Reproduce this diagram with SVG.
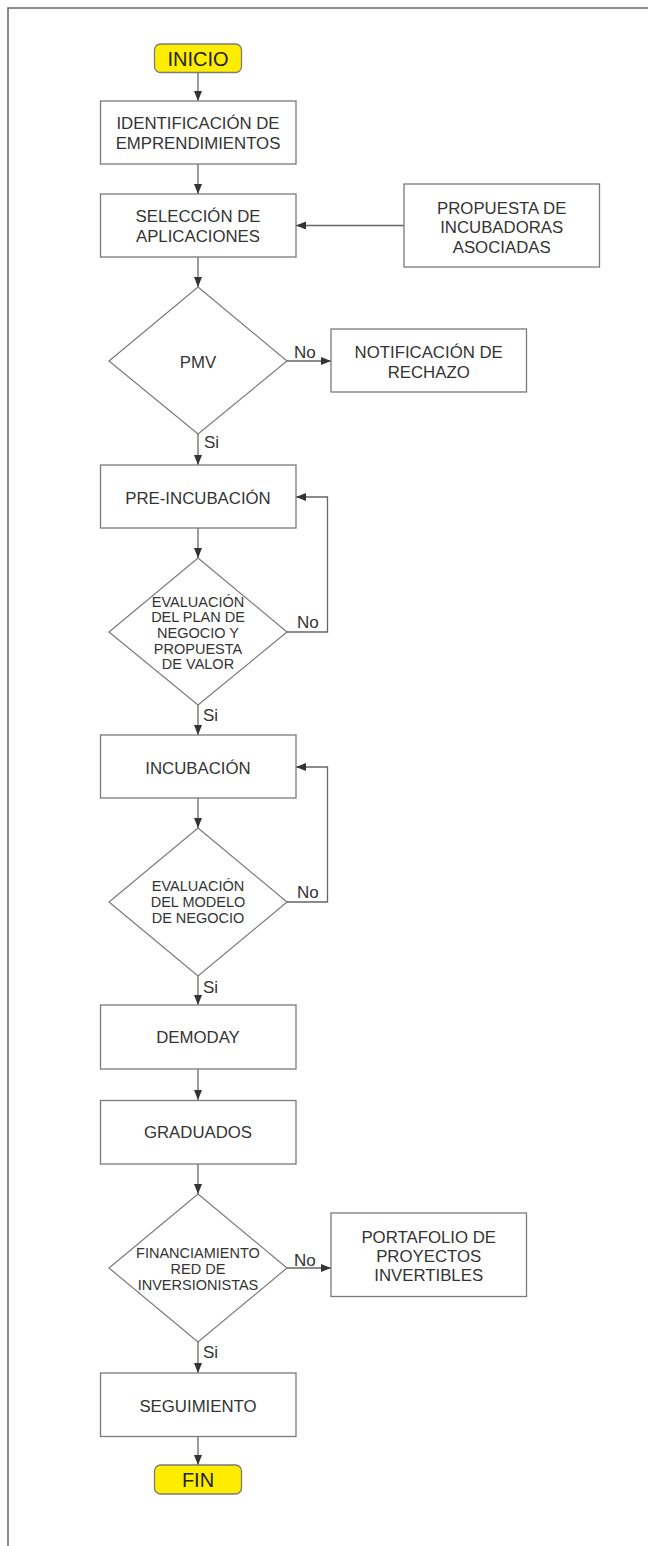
<svg xmlns="http://www.w3.org/2000/svg" width="648" height="1546" viewBox="0 0 648 1546">
<defs>
<marker id="ah" markerUnits="userSpaceOnUse" markerWidth="10" markerHeight="10" viewBox="0 0 10 10" refX="10" refY="5" orient="auto">
<path d="M0,1 L10,5 L0,9 Z" fill="#333"/>
</marker>
<style>
.frame{fill:none;stroke:#666;stroke-width:1.5}
.box{fill:#fff;stroke:#7a7a7a;stroke-width:1.3}
.term{fill:#ffed00;stroke:#7a7a7a;stroke-width:1.3}
.dia{fill:#fff;stroke:#7a7a7a;stroke-width:1.2}
.t{font-family:"Liberation Sans",Arial,sans-serif;font-size:16.8px;fill:#333;text-anchor:middle}
.td{font-family:"Liberation Sans",Arial,sans-serif;font-size:14.5px;fill:#333;text-anchor:middle}
.tt{font-family:"Liberation Sans",Arial,sans-serif;font-size:20px;fill:#222;text-anchor:middle}
.lbl{font-family:"Liberation Sans",Arial,sans-serif;font-size:17px;fill:#333}
.c{fill:none;stroke:#666;stroke-width:1.3}
</style>
</defs>
<rect width="648" height="1546" fill="#fff"/>
<path class="frame" d="M8,1546 L8,8 L648,8"/>

<g id="connectors">
<line class="c" x1="198" y1="73" x2="198" y2="101" marker-end="url(#ah)"/>
<line class="c" x1="198" y1="164" x2="198" y2="194" marker-end="url(#ah)"/>
<line class="c" x1="404" y1="225.5" x2="296" y2="225.5" marker-end="url(#ah)"/>
<line class="c" x1="198" y1="257" x2="198" y2="287" marker-end="url(#ah)"/>
<line class="c" x1="287" y1="361" x2="331" y2="361" marker-end="url(#ah)"/>
<line class="c" x1="198" y1="434" x2="198" y2="465" marker-end="url(#ah)"/>
<line class="c" x1="198" y1="528" x2="198" y2="558" marker-end="url(#ah)"/>
<polyline class="c" points="287,632 327.5,632 327.5,497 296,497" marker-end="url(#ah)"/>
<line class="c" x1="198" y1="705" x2="198" y2="735" marker-end="url(#ah)"/>
<line class="c" x1="198" y1="798" x2="198" y2="828" marker-end="url(#ah)"/>
<polyline class="c" points="287,902 327.5,902 327.5,767 296,767" marker-end="url(#ah)"/>
<line class="c" x1="198" y1="976" x2="198" y2="1005" marker-end="url(#ah)"/>
<line class="c" x1="198" y1="1069" x2="198" y2="1100" marker-end="url(#ah)"/>
<line class="c" x1="198" y1="1164" x2="198" y2="1194" marker-end="url(#ah)"/>
<line class="c" x1="287" y1="1268" x2="331" y2="1268" marker-end="url(#ah)"/>
<line class="c" x1="198" y1="1342" x2="198" y2="1373" marker-end="url(#ah)"/>
<line class="c" x1="198" y1="1436" x2="198" y2="1465" marker-end="url(#ah)"/>
<text class="lbl" x="294" y="358">No</text>
<text class="lbl" x="204" y="448">Si</text>
<text class="lbl" x="297" y="628">No</text>
<text class="lbl" x="203" y="721">Si</text>
<text class="lbl" x="297" y="898">No</text>
<text class="lbl" x="203" y="993">Si</text>
<text class="lbl" x="294" y="1266">No</text>
<text class="lbl" x="203" y="1358">Si</text>
</g>

<g id="inicio">
<rect class="term" x="154.5" y="44" width="87" height="28.5" rx="6"/>
<text class="tt" x="198" y="65.5">INICIO</text>
</g>
<g id="identificacion">
<rect class="box" x="100.5" y="101" width="195.5" height="63"/>
<text class="t" x="198" y="129">IDENTIFICACIÓN DE</text>
<text class="t" x="198" y="149">EMPRENDIMIENTOS</text>
</g>
<g id="seleccion">
<rect class="box" x="100.5" y="194" width="195.5" height="63"/>
<text class="t" x="198" y="222">SELECCIÓN DE</text>
<text class="t" x="198" y="242">APLICACIONES</text>
</g>
<g id="propuesta">
<rect class="box" x="404" y="184" width="195.5" height="83"/>
<text class="t" x="501.7" y="214">PROPUESTA DE</text>
<text class="t" x="501.7" y="233">INCUBADORAS</text>
<text class="t" x="501.7" y="252.5">ASOCIADAS</text>
</g>
<g id="pmv">
<polygon class="dia" points="198,287 287,361 198,434 109,361"/>
<text class="t" x="198" y="367.5">PMV</text>
</g>
<g id="notificacion">
<rect class="box" x="331" y="329" width="195.5" height="63"/>
<text class="t" x="428.7" y="358">NOTIFICACIÓN DE</text>
<text class="t" x="428.7" y="377.5">RECHAZO</text>
</g>
<g id="preincubacion">
<rect class="box" x="100.5" y="465" width="195.5" height="63"/>
<text class="t" x="198" y="503.5">PRE-INCUBACIÓN</text>
</g>
<g id="eval-plan">
<polygon class="dia" points="198,558 287,632 198,705 109,632"/>
<text class="td" x="198" y="606.5">EVALUACIÓN</text>
<text class="td" x="198" y="622.2">DEL PLAN DE</text>
<text class="td" x="198" y="637.9">NEGOCIO Y</text>
<text class="td" x="198" y="653.6">PROPUESTA</text>
<text class="td" x="198" y="669.3">DE VALOR</text>
</g>
<g id="incubacion">
<rect class="box" x="100.5" y="735" width="195.5" height="63"/>
<text class="t" x="198" y="773.5">INCUBACIÓN</text>
</g>
<g id="eval-modelo">
<polygon class="dia" points="198,828 287,902 198,976 109,902"/>
<text class="td" x="198" y="891">EVALUACIÓN</text>
<text class="td" x="198" y="907">DEL MODELO</text>
<text class="td" x="198" y="923">DE NEGOCIO</text>
</g>
<g id="demoday">
<rect class="box" x="100.5" y="1005" width="195.5" height="64"/>
<text class="t" x="198" y="1043.3">DEMODAY</text>
</g>
<g id="graduados">
<rect class="box" x="100.5" y="1100.5" width="195.5" height="63.5"/>
<text class="t" x="198" y="1138.3">GRADUADOS</text>
</g>
<g id="financiamiento">
<polygon class="dia" points="198,1194 287,1268 198,1342 109,1268"/>
<text class="td" x="198" y="1257.5">FINANCIAMIENTO</text>
<text class="td" x="198" y="1273.5">RED DE</text>
<text class="td" x="198" y="1289.5">INVERSIONISTAS</text>
</g>
<g id="portafolio">
<rect class="box" x="331" y="1213" width="195.5" height="83.5"/>
<text class="t" x="428.7" y="1242.7">PORTAFOLIO DE</text>
<text class="t" x="428.7" y="1261.7">PROYECTOS</text>
<text class="t" x="428.7" y="1280.7">INVERTIBLES</text>
</g>
<g id="seguimiento">
<rect class="box" x="100.5" y="1373" width="195.5" height="63.5"/>
<text class="t" x="198" y="1411.5">SEGUIMIENTO</text>
</g>
<g id="fin">
<rect class="term" x="154.5" y="1465" width="87" height="29" rx="6"/>
<text class="tt" x="198" y="1487">FIN</text>
</g>
</svg>
